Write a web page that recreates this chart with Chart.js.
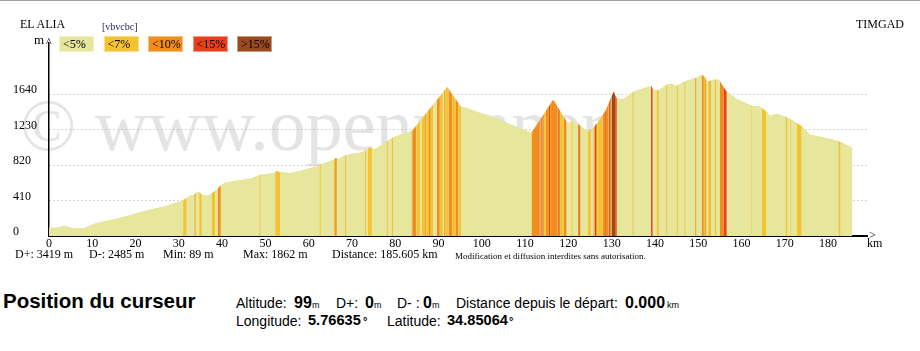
<!DOCTYPE html>
<html>
<head>
<meta charset="utf-8">
<script src="https://cdn.jsdelivr.net/npm/chart.js@4.4.0/dist/chart.umd.min.js"></script>
<style>
  body { margin: 0; width: 920px; height: 351px; background: #fff; position: relative; overflow: hidden; font-family: "Liberation Serif", serif; }
  #bord { position: absolute; left: 0; top: 0; width: 920px; height: 1px; background: #a0a0a0; }
  #zone { position: absolute; left: 0; top: 0; width: 920px; height: 270px; }
  .t { position: absolute; white-space: nowrap; font-size: 12px; line-height: 12px; color: #000; }
  .box { position: absolute; top: 36px; width: 35px; height: 16px; box-sizing: border-box; border: 1px solid rgba(255,255,255,.45); font-size: 12px; line-height: 15px; padding-left: 3px; color: #000; }
  .s { position: absolute; white-space: nowrap; font-family: "Liberation Sans", Arial, sans-serif; line-height: 1; color: #000; }
  .n { font-size: 14px; top: 296px; }
  .v { font-size: 16px; font-weight: bold; top: 294.5px; }
  .u { font-size: 9px; top: 300.5px; }
  .n2 { font-size: 14px; top: 313.5px; }
  .v2 { font-size: 14.6px; font-weight: bold; top: 313px; }
  .d2 { font-size: 11px; font-weight: bold; top: 316px; }
</style>
</head>
<body>
<div id="bord"></div>
<div id="zone"><canvas id="profil" width="920" height="270"></canvas></div>

<div class="t" style="left:20px;top:18px">EL ALIA</div>
<div class="t" style="left:102px;top:21px;font-size:10px;color:#1c1c5a">[vbvcbc]</div>
<div class="t" style="right:16px;top:18px">TIMGAD</div>
<div class="t" style="left:34px;top:34px;font-size:13px">m</div>
<div class="t" style="left:46px;top:36px">^</div>
<div class="t" style="left:869px;top:229px">&gt;</div>
<div class="t" style="left:867px;top:237px">km</div>
<div id="legende"></div>

<div class="t" style="left:15px;top:248px">D+: 3419 m</div>
<div class="t" style="left:89px;top:248px">D-: 2485 m</div>
<div class="t" style="left:163px;top:248px">Min: 89 m</div>
<div class="t" style="left:243px;top:248px">Max: 1862 m</div>
<div class="t" style="left:332px;top:248px">Distance: 185.605 km</div>
<div class="t" style="left:455px;top:250px;font-size:9px">Modification et diffusion interdites sans autorisation.</div>

<div class="s" style="left:3px;top:291px;font-size:20.5px;font-weight:bold">Position du curseur</div>
<div class="s n" style="left:236px">Altitude:</div>
<div class="s v" style="left:294px">99</div>
<div class="s u" style="left:312px">m</div>
<div class="s n" style="left:336px">D+:</div>
<div class="s v" style="left:365px">0</div>
<div class="s u" style="left:374px">m</div>
<div class="s n" style="left:397px">D- :</div>
<div class="s v" style="left:423px">0</div>
<div class="s u" style="left:432px">m</div>
<div class="s n" style="left:456px">Distance depuis le départ:</div>
<div class="s v" style="left:625px">0.000</div>
<div class="s u" style="left:667px">km</div>
<div class="s n2" style="left:236px">Longitude:</div>
<div class="s v2" style="left:308px">5.76635</div>
<div class="s d2" style="left:363px">°</div>
<div class="s n2" style="left:387px">Latitude:</div>
<div class="s v2" style="left:447px">34.85064</div>
<div class="s d2" style="left:509px">°</div>

<script>
// profil altimétrique : distance (km), altitude (m), classe de pente du tronçon qui part du point
const distKm = [0, 1.5, 3.7, 5.3, 8.3, 9.2, 10.8, 14.5, 17.6, 21.2, 23.7, 26.8, 29.9, 31.0, 31.8, 32.6, 33.3, 33.6, 33.9, 34.3,
  34.7, 35.3, 35.7, 36.9, 37.6, 38.4, 39.0, 39.7, 40.7, 43.7, 46.8, 48.6, 48.9, 51.8, 52.2, 52.4, 52.6, 53.4, 55.7, 58.8,
  62.5, 62.8, 65.8, 66.1, 66.5, 66.9, 68.4, 68.7, 71.9, 73.0, 73.3, 73.7, 74.2, 74.6, 75.3, 78.0, 78.3, 79.2, 79.5, 83.4,
  83.8, 84.0, 84.3, 84.9, 85.7, 86.1, 86.9, 87.2, 87.8, 88.2, 88.8, 89.6, 90.3, 91.0, 91.3, 91.6, 92.0, 92.3, 93.1, 93.9,
  94.6, 95.2, 97.3, 99.6, 101.9, 105.0, 108.8, 111.5, 113.3, 113.5, 114.0, 114.3, 114.8, 115.5, 115.8, 116.5, 117.5, 117.8, 118.1, 118.9,
  119.6, 120.2, 120.7, 121.0, 122.2, 122.5, 122.8, 124.5, 125.2, 125.8, 126.1, 126.4, 126.7, 127.9, 128.5, 128.7, 129.3, 129.6, 130.0, 130.5,
  130.8, 131.2, 132.7, 134.8, 135.1, 139.1, 139.5, 140.4, 140.9, 142.6, 142.9, 143.9, 145.0, 145.3, 146.8, 147.1, 149.3, 149.6, 150.8, 151.3,
  151.6, 151.9, 152.3, 152.8, 153.0, 153.8, 154.2, 154.6, 155.0, 155.8, 156.6, 158.9, 161.9, 162.3, 162.5, 164.3, 164.7, 165.7, 166.6, 168.1,
  170.2, 170.6, 171.3, 171.5, 172.8, 173.9, 175.8, 178.9, 182.4, 182.9, 185.1, 185.6];
const altM = [99, 96, 118, 92, 92, 116, 148, 187, 224, 276, 309, 345, 392, 417, 440, 470, 470, 482, 498, 513,
  505, 482, 470, 470, 494, 522, 548, 585, 617, 642, 668, 705, 712, 725, 735, 745, 748, 740, 725, 764,
  818, 826, 880, 899, 899, 890, 930, 936, 964, 985, 995, 1005, 1026, 1015, 1003, 1092, 1100, 1130, 1140, 1207,
  1215, 1225, 1240, 1277, 1327, 1353, 1403, 1422, 1460, 1485, 1522, 1572, 1615, 1659, 1678, 1697, 1721, 1700, 1642, 1585,
  1535, 1495, 1466, 1420, 1389, 1323, 1246, 1196, 1332, 1348, 1385, 1408, 1446, 1498, 1521, 1574, 1493, 1468, 1444, 1380,
  1323, 1305, 1322, 1330, 1295, 1285, 1270, 1210, 1228, 1250, 1270, 1290, 1305, 1395, 1440, 1455, 1530, 1570, 1615, 1670,
  1630, 1590, 1582, 1660, 1670, 1736, 1695, 1682, 1688, 1745, 1752, 1759, 1736, 1745, 1786, 1790, 1825, 1830, 1862, 1845,
  1830, 1800, 1786, 1795, 1800, 1808, 1808, 1806, 1790, 1725, 1670, 1582, 1516, 1508, 1505, 1497, 1480, 1440, 1389, 1412,
  1378, 1370, 1350, 1345, 1304, 1270, 1169, 1142, 1098, 1085, 1030, 1028];
const pente = [0, 0, 0, 0, 0, 0, 0, 0, 0, 0, 0, 0, 0, 1, 0, 0, 0, 2, 0, 0,
  1, 0, 0, 0, 1, 0, 2, 0, 0, 0, 0, 1, 0, 0, 1, 2, 1, 0, 0, 0,
  1, 0, 1, 2, 0, 0, 1, 0, 0, 1, 0, 1, 1, 0, 0, 1, 0, 1, 0, 0,
  3, 2, 2, 1, 0, 1, 2, 1, 2, 1, 0, 2, 1, 0, 2, 1, 1, 2, 1, 2,
  1, 0, 0, 0, 0, 0, 0, 2, 3, 2, 3, 1, 2, 3, 2, 2, 3, 2, 1, 2,
  0, 0, 1, 0, 2, 3, 0, 1, 0, 2, 3, 2, 1, 2, 3, 2, 3, 2, 4, 4,
  3, 0, 0, 1, 0, 3, 0, 1, 0, 1, 0, 0, 1, 0, 1, 0, 2, 0, 2, 1,
  2, 0, 1, 2, 0, 1, 0, 0, 2, 3, 0, 0, 0, 1, 0, 0, 1, 0, 0, 0,
  1, 0, 1, 0, 1, 0, 0, 0, 1, 0, 0, 0];

const classes = ['<5%', '<7%', '<10%', '<15%', '>15%'];
const couleurs = ['#e6e69c', '#f4c332', '#f28c1b', '#e8401c', '#9b4a20'];
const ticksAlt = [0, 410, 820, 1230, 1640];
const ticksKm = [0, 10, 20, 30, 40, 50, 60, 70, 80, 90, 100, 110, 120, 130, 140, 150, 160, 170, 180];

// légende des pentes
const leg = document.getElementById('legende');
classes.forEach((c, i) => {
  const d = document.createElement('div');
  d.className = 'box';
  d.style.left = (59 + i * 44.5) + 'px';
  d.style.background = couleurs[i];
  d.textContent = c;
  leg.appendChild(d);
});

// filigrane derrière le profil
const filigrane = {
  id: 'filigrane',
  beforeDraw(chart) {
    const ctx = chart.ctx;
    ctx.save();
    ctx.font = '74px "Liberation Serif"';
    ctx.fillStyle = '#e4e4e4';
    ctx.fillText('© www.openrunner.com', 20, 150);
    ctx.restore();
  }
};

const points = distKm.map((x, i) => ({ x: x, y: altM[i] }));
const serif = { family: '"Liberation Serif", serif', size: 12 };

new Chart(document.getElementById('profil'), {
  type: 'line',
  data: {
    datasets: [
      {
        data: points,
        fill: 'origin',
        backgroundColor: couleurs[0],
        borderColor: 'transparent',
        borderWidth: 0,
        pointRadius: 0,
        tension: 0,
        segment: { backgroundColor: c => couleurs[pente[c.p0DataIndex]] }
      },
      {
        data: points,
        fill: 'origin',
        backgroundColor: couleurs[0],
        borderColor: 'transparent',
        borderWidth: 0,
        pointRadius: 0,
        tension: 0
      }
    ]
  },
  plugins: [filigrane],
  options: {
    responsive: false,
    animation: false,
    devicePixelRatio: 1,
    layout: { padding: { left: 13, top: 43, right: 53, bottom: 14 } },
    plugins: { legend: { display: false }, tooltip: { enabled: false } },
    scales: {
      x: {
        type: 'linear',
        min: 0,
        max: 189,
        grid: { display: false, drawTicks: false },
        border: { display: true, color: '#000', width: 2 },
        ticks: { font: serif, color: '#000', padding: 1, maxRotation: 0, autoSkip: false, callback: v => String(v) },
        afterBuildTicks: s => { s.ticks = ticksKm.map(v => ({ value: v })); },
        afterFit: s => { s.height = 20; }
      },
      y: {
        type: 'linear',
        min: 0,
        max: 2230,
        grid: { color: '#a8a8a8', lineWidth: 1, drawTicks: false },
        border: { display: true, color: '#000', width: 1.5, dash: [1, 3] },
        ticks: { font: serif, color: '#000', crossAlign: 'far', labelOffset: -4, padding: 0, callback: v => String(v) },
        afterBuildTicks: s => { s.ticks = ticksAlt.map(v => ({ value: v })); },
        afterFit: s => { s.width = 36; }
      }
    }
  }
});
</script>
</body>
</html>
